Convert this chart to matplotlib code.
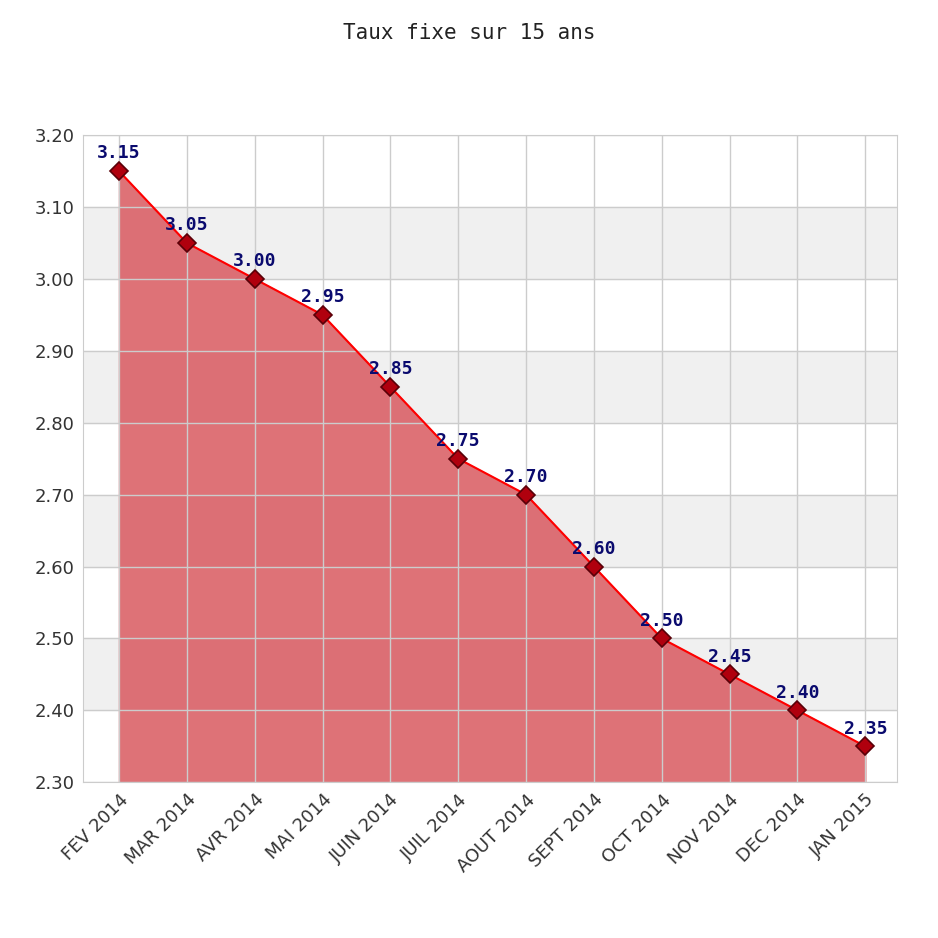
import matplotlib.pyplot as plt

months = ["FEV 2014", "MAR 2014", "AVR 2014", "MAI 2014", "JUIN 2014", "JUIL 2014",
          "AOUT 2014", "SEPT 2014", "OCT 2014", "NOV 2014", "DEC 2014", "JAN 2015"]
rates = [3.15, 3.05, 3.00, 2.95, 2.85, 2.75, 2.70, 2.60, 2.50, 2.45, 2.40, 2.35]
yticks = [2.30, 2.40, 2.50, 2.60, 2.70, 2.80, 2.90, 3.00, 3.10, 3.20]

fig = plt.figure(figsize=(9.38, 9.38), dpi=100)
ax = fig.add_axes([0.0885, 0.166, 0.868, 0.690])
x = list(range(len(months)))

# alternating bands
for lo in [2.40, 2.60, 2.80, 3.00]:
    ax.axhspan(lo, lo + 0.10, color="#f0f0f0", zorder=0)

ax.fill_between(x, rates, 2.30, color="#d9595f", alpha=0.85, zorder=1)
ax.plot(x, rates, color="red", lw=1.5, zorder=3)
ax.plot(x, rates, "D", ms=9, mfc="#b0000e", mec="#5a0008", mew=1.2, zorder=4)
for xi, r in zip(x, rates):
    ax.text(xi, r + 0.012, f"{r:.2f}", ha="center", va="bottom", color="#0a0a6e",
            fontsize=13, fontweight="bold", family="DejaVu Sans Mono", zorder=5)

ax.set_xlim(-0.53, 11.47)
ax.set_ylim(2.30, 3.20)
ax.set_yticks(yticks)
ax.set_yticklabels([f"{v:.2f}" for v in yticks], fontsize=13, color="#333333")
ax.set_xticks(x)
ax.set_xticklabels(months, rotation=45, ha="right", rotation_mode="anchor",
                   fontsize=13, color="#333333")
ax.grid(True, color="#cccccc", lw=1, zorder=0.5)
ax.set_axisbelow(False)
for s in ax.spines.values():
    s.set_color("#cccccc")
ax.tick_params(length=0, pad=6)
fig.suptitle("Taux fixe sur 15 ans", y=0.975, fontsize=15, family="DejaVu Sans Mono",
             color="#222222")
fig.savefig("out.png", dpi=100)
